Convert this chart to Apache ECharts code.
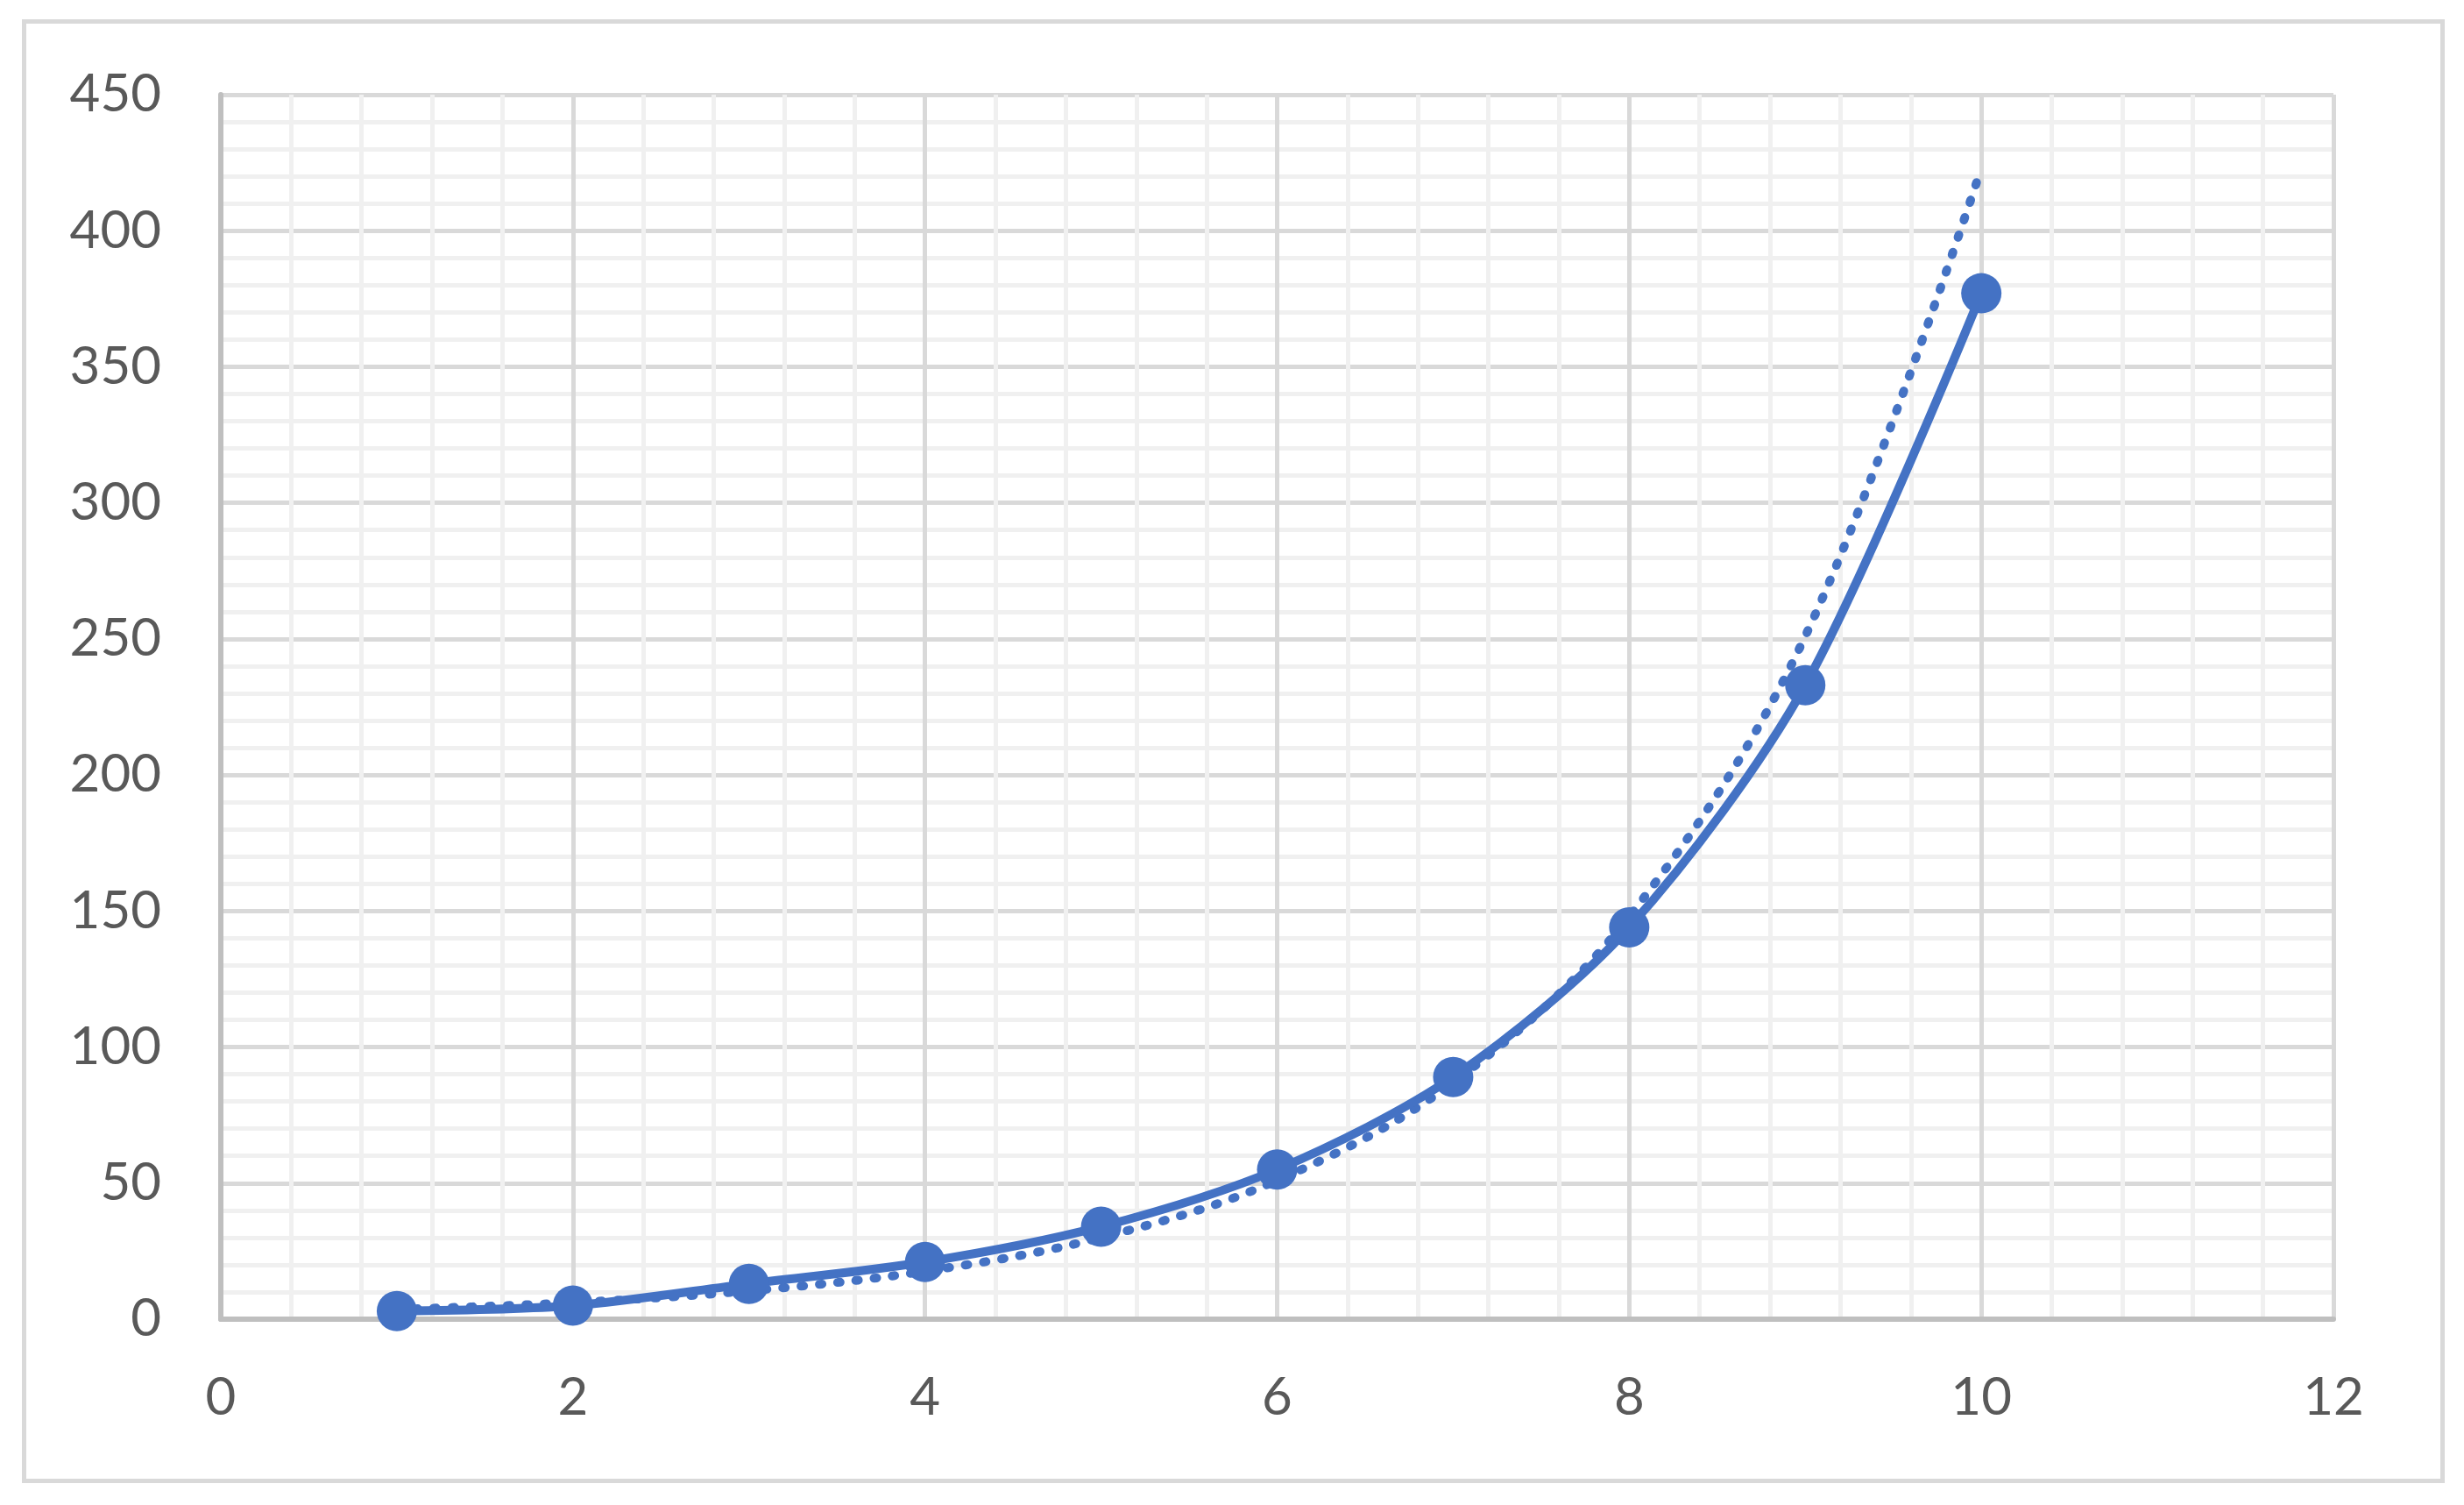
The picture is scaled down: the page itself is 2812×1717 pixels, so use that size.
<!DOCTYPE html>
<html>
<head>
<meta charset="utf-8">
<script src="https://cdn.jsdelivr.net/npm/echarts@6/dist/echarts.min.js"></script>
<style>
html,body{margin:0;padding:0;background:#fff;}
#chart{width:2812px;height:1717px;}
</style>
</head>
<body>
<div id="chart"></div>
<script>
// Data
const xValues = [1, 2, 3, 4, 5, 6, 7, 8, 9, 10];
const yValues = [3, 5, 13, 21, 34, 55, 89, 144, 233, 377];
// Dotted trend line
const trendX = [1, 2, 3, 4, 5, 6, 7, 8, 9, 10];
const trendY = [3.6, 6.1, 10.4, 17.6, 30, 51, 87, 148, 251, 423];

const xTicks = [0, 2, 4, 6, 8, 10, 12];
const yTicks = [0, 50, 100, 150, 200, 250, 300, 350, 400, 450];

const blue = '#4472c4';
const labelFont = 'Lato, "Open Sans", "Liberation Sans", sans-serif';

const chart = echarts.init(document.getElementById('chart'), null, {renderer: 'canvas'});

chart.setOption({
  animation: false,
  backgroundColor: '#ffffff',
  graphic: [{
    type: 'rect',
    left: 25, top: 22,
    shape: {width: 2760, height: 1665},
    style: {fill: 'none', stroke: '#d9d9d9', lineWidth: 5},
    z: -10
  }],
  grid: {left: 252, right: 149, top: 108, bottom: 212, containLabel: false},
  xAxis: {
    type: 'value',
    min: xTicks[0], max: xTicks[xTicks.length - 1], interval: 2,
    axisLine: {show: true, onZero: false, lineStyle: {color: '#bfbfbf', width: 6}},
    axisTick: {show: false},
    axisLabel: {color: '#595959', fontSize: 60, fontFamily: labelFont, margin: 60},
    splitLine: {show: true, lineStyle: {color: '#d9d9d9', width: 5}},
    minorTick: {show: false, splitNumber: 5},
    minorSplitLine: {show: true, lineStyle: {color: '#f0f0f0', width: 5}}
  },
  yAxis: {
    type: 'value',
    min: yTicks[0], max: yTicks[yTicks.length - 1], interval: 50,
    axisLine: {show: true, lineStyle: {color: '#bfbfbf', width: 6}},
    axisTick: {show: false},
    axisLabel: {color: '#595959', fontSize: 60, fontFamily: labelFont, margin: 68},
    splitLine: {show: true, lineStyle: {color: '#d9d9d9', width: 5}},
    minorTick: {show: false, splitNumber: 5},
    minorSplitLine: {show: true, lineStyle: {color: '#f0f0f0', width: 5}}
  },
  series: [
    {
      type: 'line',
      name: 'trend',
      data: trendX.map((x, i) => [x, trendY[i]]),
      smooth: 0.35,
      showSymbol: false,
      symbol: 'none',
      lineStyle: {color: blue, width: 10, type: [3, 18], cap: 'round'},
      z: 2
    },
    {
      type: 'line',
      name: 'values',
      data: xValues.map((x, i) => [x, yValues[i]]),
      smooth: 0.3,
      symbol: 'circle',
      symbolSize: 46,
      itemStyle: {color: blue},
      lineStyle: {color: blue, width: 10},
      z: 3
    }
  ]
});
</script>
</body>
</html>
